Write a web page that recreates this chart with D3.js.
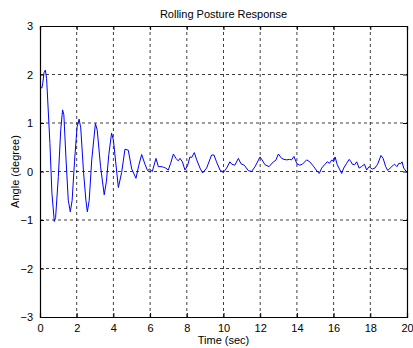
<!DOCTYPE html>
<html><head><meta charset="utf-8">
<script src="https://cdn.jsdelivr.net/npm/d3@7"></script>
<style>
body{margin:0;background:#fff;}
svg text{font-family:"Liberation Sans",Arial,Helvetica,sans-serif;}
</style></head>
<body><svg id="c" width="413" height="348"></svg>
<script>
const xTicks = [0,2,4,6,8,10,12,14,16,18,20];
const yTicks = [-3,-2,-1,0,1,2,3];
const time = [0,0.1,0.15,0.22,0.29,0.36,0.54,0.65,0.78,0.85,1.0,1.13,1.23,1.3,1.42,1.54,1.65,1.75,1.88,2.02,2.13,2.22,2.37,2.5,2.58,2.68,2.82,3.02,3.12,3.3,3.5,3.62,3.75,3.9,4.0,4.27,4.45,4.63,4.81,5.0,5.23,5.38,5.54,5.72,5.86,5.98,6.12,6.32,6.45,6.6,6.72,6.85,6.99,7.12,7.27,7.41,7.53,7.63,7.76,7.9,8.04,8.17,8.27,8.41,8.54,8.72,8.86,9.08,9.35,9.48,9.62,9.81,9.99,10.17,10.35,10.45,10.62,10.81,10.95,11.13,11.35,11.53,11.72,11.99,12.1,12.26,12.48,12.72,12.85,12.99,13.17,13.3,13.45,13.6,13.71,13.84,14.0,14.15,14.3,14.53,14.7,14.9,15.11,15.22,15.35,15.53,15.65,15.78,15.9,16.0,16.08,16.2,16.32,16.44,16.55,16.71,16.85,16.95,17.02,17.15,17.26,17.39,17.52,17.68,17.8,17.93,18.11,18.25,18.4,18.58,18.7,18.84,18.95,19.08,19.25,19.32,19.45,19.56,19.66,19.73,19.82,20.0];
const angle = [1.75,1.72,1.82,2.04,2.09,1.92,0.58,-0.45,-1.03,-0.95,-0.1,0.86,1.27,1.17,0.24,-0.59,-0.83,-0.6,0.2,0.92,1.08,0.9,0.0,-0.59,-0.83,-0.6,0.24,0.99,0.85,0.1,-0.48,-0.2,0.35,0.79,0.65,-0.33,-0.02,0.46,0.44,0.05,-0.14,0.12,0.35,0.15,0.02,0.05,0.0,0.27,0.1,0.1,0.09,0.07,0.03,0.17,0.36,0.27,0.22,0.27,0.2,0.03,0.12,0.3,0.29,0.39,0.24,0.07,-0.03,0.07,0.34,0.34,0.2,0.03,-0.02,0.07,0.2,0.15,0.13,0.27,0.16,0.13,0.02,0.0,0.1,0.3,0.24,0.14,0.1,0.2,0.23,0.36,0.27,0.25,0.24,0.25,0.24,0.31,0.16,0.13,0.15,0.24,0.2,0.11,0.0,-0.04,0.07,0.15,0.2,0.17,0.24,0.2,0.3,0.14,0.05,-0.04,0.07,0.17,0.25,0.2,0.15,0.14,0.2,0.07,0.1,0.15,0.03,0.1,0.05,0.07,0.15,0.33,0.27,0.1,0.02,0.07,0.13,0.15,0.1,0.17,0.16,0.2,0.07,-0.02];

const svg = d3.select("#c");
const L=40, R=407, T=26, B=317;
const x = d3.scaleLinear().domain([0,20]).range([L,R]);
const y = d3.scaleLinear().domain([-3,3]).range([B,T]);
const fs = 11;

// grid
const g = svg.append("g");
g.selectAll(".gx").data(xTicks.slice(1,-1)).enter().append("line")
  .attr("x1",d=>x(d)).attr("x2",d=>x(d)).attr("y1",T).attr("y2",B)
  .attr("stroke","#000").attr("stroke-width",1).attr("stroke-dasharray","3,3").attr("opacity",0.75);
g.selectAll(".gy").data(yTicks.slice(1,-1)).enter().append("line")
  .attr("y1",d=>y(d)).attr("y2",d=>y(d)).attr("x1",L).attr("x2",R)
  .attr("stroke","#000").attr("stroke-width",1).attr("stroke-dasharray","3,3").attr("opacity",0.75);

// data line
const pts = time.map((t,i)=>[t,angle[i]]);
svg.append("path").datum(pts)
  .attr("d", d3.line().x(d=>x(d[0])).y(d=>y(d[1])))
  .attr("fill","none").attr("stroke","#0000ff").attr("stroke-width",1);

// axes
const xa = svg.append("g").attr("transform",`translate(0,${B})`)
  .call(d3.axisBottom(x).tickValues(xTicks).tickSize(-4).tickPadding(7).tickFormat(d3.format("d")));
const xt = svg.append("g").attr("transform",`translate(0,${T})`)
  .call(d3.axisTop(x).tickValues(xTicks).tickSize(-4).tickFormat(""));
const ya = svg.append("g").attr("transform",`translate(${L},0)`)
  .call(d3.axisLeft(y).tickValues(yTicks).tickSize(-4).tickPadding(7).tickFormat(d3.format("d")));
const yr = svg.append("g").attr("transform",`translate(${R},0)`)
  .call(d3.axisRight(y).tickValues(yTicks).tickSize(-4).tickFormat(""));
[xa,xt,ya,yr].forEach(a=>{
  a.selectAll("path").attr("stroke","#000").attr("stroke-width",1.2);
  a.selectAll("line").attr("stroke","#000");
  a.selectAll("text").attr("font-size",fs).attr("fill","#000")
   .attr("font-family","'Liberation Sans',Arial,sans-serif");
});

svg.append("text").attr("x",(L+R)/2).attr("y",18).attr("text-anchor","middle")
  .attr("font-size",fs).text("Rolling Posture Response");
svg.append("text").attr("x",(L+R)/2).attr("y",344).attr("text-anchor","middle")
  .attr("font-size",fs).text("Time (sec)");
svg.append("text").attr("transform",`translate(19,${(T+B)/2}) rotate(-90)`)
  .attr("text-anchor","middle").attr("font-size",fs).text("Angle (degree)");
</script></body></html>
